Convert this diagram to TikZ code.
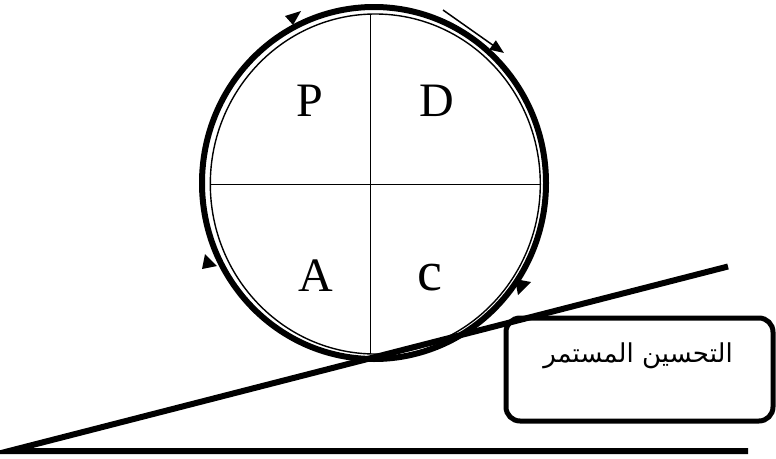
\documentclass[tikz,border=0pt]{standalone}
\usepackage{fontspec}
\setmainfont{Liberation Serif}
\newfontfamily\arabicfont[Script=Arabic]{DejaVu Sans}
\TeXXeTstate=1
\usetikzlibrary{arrows.meta}
\begin{document}
\begin{tikzpicture}[x=1pt,y=-1pt,
  thickline/.style={line width=6pt},
  thinline/.style={line width=1.4pt},
  letter/.style={anchor=base,inner sep=0pt,font=\fontsize{48}{48}\selectfont},
  headfill/.style={fill=black,draw=none}]
\useasboundingbox (0,0) rectangle (776,458);
% circles
\draw[thickline] (374,183) ellipse [x radius=172, y radius=176];
\draw[thinline] (375.3,184) ellipse [x radius=165, y radius=170];
% cross
\coordinate (vt) at (370.5,14);
\coordinate (vb) at (370.5,354);
\coordinate (hl) at (210.5,184.5);
\coordinate (hr) at (540,184.5);
\draw[thinline] (vt) -- (vb);
\draw[thinline] (hl) -- (hr);
% letters
\node[letter] (P) at (310,116) {P};
\node[letter] (D) at (437,116) {D};
\node[letter] (A) at (316,291) {A};
\node[letter,font=\fontsize{56}{56}\selectfont] (C) at (430,290) {c};
% arrowheads on circle
\fill[headfill] (301,11) -- (285,16) -- (293,25) -- cycle;
\fill[headfill] (205,254) -- (202,269) -- (217,266) -- cycle;
\fill[headfill] (518,295) -- (531,282) -- (515,279) -- cycle;
% tangent arrow
\coordinate (ta) at (443,10);
\coordinate (tb) at (504,53);
\draw[line width=1.5pt,-{Triangle[length=14pt,width=11pt]}] (ta) -- (tb);
% incline and base
\coordinate (o) at (9,451);
\coordinate (inc) at (728,266.5);
\coordinate (base) at (748,451);
\draw[line width=6pt,line join=miter] (inc) -- (o) -- (base);
% box
\node[draw,line width=5pt,rounded corners=14pt,minimum width=267pt,minimum height=103pt,inner sep=0pt] (box) at (639.5,369.5) {};
\node[inner sep=0pt,font=\arabicfont\fontsize{26}{26}\selectfont] (txt) at (638,356) {\beginR التحسين المستمر\endR};
\end{tikzpicture}
\end{document}
